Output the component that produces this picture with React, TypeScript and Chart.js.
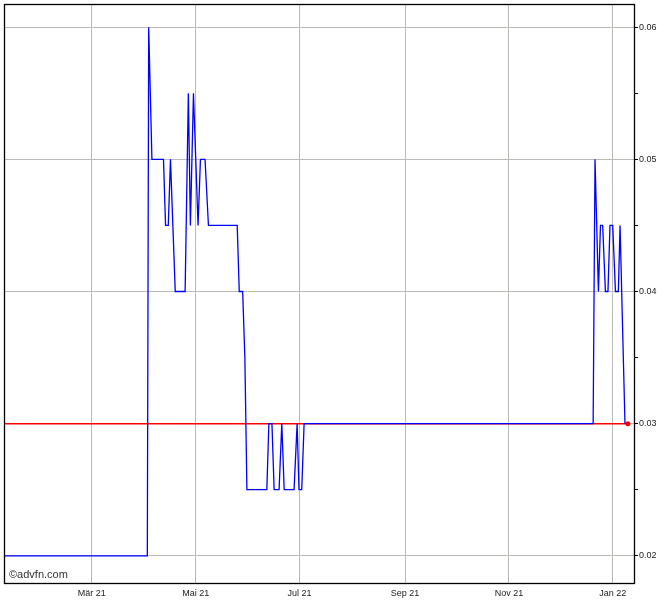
import React, { useEffect, useRef } from "react";
import { Chart, registerables } from "chart.js";

Chart.register(...registerables);

// Days since 2021-01-01 (approximate)
const priceDays = [
  7.4, 91.6, 92.4, 94.3, 101.1, 102.3, 103.9, 105.2, 108.0, 113.8,
  115.7, 116.9, 118.7, 121.4, 122.8, 125.5, 127.5, 144.4, 145.6, 147.6,
  148.9, 150.1, 161.8, 163.0, 164.8, 166.1, 169.0, 170.6, 172.0, 177.8,
  179.6, 180.7, 182.3, 183.7, 353.5, 354.6, 356.6, 357.8, 359.1, 360.7,
  362.2, 363.4, 365.0, 366.6, 368.3, 369.3, 372.2,
];
const priceValues = [
  0.02, 0.02, 0.06, 0.05, 0.05, 0.045, 0.045, 0.05, 0.04, 0.04,
  0.055, 0.045, 0.055, 0.045, 0.05, 0.05, 0.045, 0.045, 0.04, 0.04,
  0.035, 0.025, 0.025, 0.03, 0.03, 0.025, 0.025, 0.03, 0.025, 0.025,
  0.03, 0.025, 0.025, 0.03, 0.03, 0.05, 0.04, 0.045, 0.045, 0.04,
  0.04, 0.045, 0.045, 0.04, 0.04, 0.045, 0.03,
];
const lastPriceDays = [7.4, 373.9];
const lastPriceValues = [0.03, 0.03];

const monthTickDays = [59, 120, 181, 243, 304, 365];
const monthTickLabels = ["Mär 21", "Mai 21", "Jul 21", "Sep 21", "Nov 21", "Jan 22"];
const priceTickValues = [0.02, 0.025, 0.03, 0.035, 0.04, 0.045, 0.05, 0.055, 0.06];
const priceTickLabels = ["0.02", "", "0.03", "", "0.04", "", "0.05", "", "0.06"];

const FONT = '"Liberation Sans", Arial, sans-serif';
const GRID = "#bcbcb6";

const framePlugin = {
  id: "frame",
  beforeDatasetsDraw(chart: any) {
    const { ctx, chartArea } = chart;
    ctx.save();
    ctx.font = `11px ${FONT}`;
    ctx.fillStyle = "#333";
    ctx.textBaseline = "middle";
    ctx.textAlign = "left";
    ctx.fillText("©advfn.com", chartArea.left + 5, chartArea.bottom - 8);
    ctx.restore();
  },
  afterDraw(chart: any) {
    const { ctx, chartArea } = chart;
    ctx.save();
    ctx.strokeStyle = "#000";
    ctx.lineWidth = 1.3;
    ctx.strokeRect(chartArea.left + 0.5, chartArea.top + 0.5, chartArea.right - chartArea.left, chartArea.bottom - chartArea.top);
    ctx.restore();
  },
};

export default function App() {
  const ref = useRef<HTMLCanvasElement | null>(null);
  useEffect(() => {
    document.body.style.margin = "0";
    const canvas = ref.current!;
    const chart = new Chart(canvas, {
      type: "line",
      data: {
        datasets: [
          {
            data: priceDays.map((d, i) => ({ x: d, y: priceValues[i] })),
            borderColor: "#0000ff",
            borderWidth: 1.3,
            pointRadius: 0,
            tension: 0,
            fill: false,
          },
          {
            data: lastPriceDays.map((d, i) => ({ x: d, y: lastPriceValues[i] })),
            borderColor: "#ff0000",
            backgroundColor: "#ff0000",
            borderWidth: 1.5,
            pointRadius: [0, 2.5],
            pointBorderWidth: 0,
            tension: 0,
            fill: false,
          },
        ],
      },
      options: {
        responsive: false,
        animation: false,
        events: [],
        layout: { padding: { left: 2, top: 2, right: 0, bottom: 0 } },
        plugins: { legend: { display: false }, tooltip: { enabled: false } },
        scales: {
          x: {
            type: "linear",
            min: 7.4,
            max: 377.5,
            afterBuildTicks: (scale: any) => {
              scale.ticks = monthTickDays.map((v) => ({ value: v }));
            },
            afterFit: (scale: any) => {
              scale.height = 17;
              scale.paddingLeft = 0;
              scale.paddingRight = 0;
            },
            grid: { color: GRID, drawTicks: false, lineWidth: 1 },
            border: { display: false },
            ticks: {
              autoSkip: false,
              maxRotation: 0,
              padding: 5,
              color: "#222",
              font: { family: FONT, size: 9 },
              callback: (_v: any, i: number) => monthTickLabels[i],
            },
          },
          y: {
            type: "linear",
            position: "right",
            min: 0.01794,
            max: 0.06176,
            afterBuildTicks: (scale: any) => {
              scale.ticks = priceTickValues.map((v) => ({ value: v }));
            },
            afterFit: (scale: any) => {
              scale.width = 36;
              scale.paddingTop = 0;
              scale.paddingBottom = 0;
            },
            grid: {
              color: (c: any) => (priceTickLabels[c.index] ? GRID : "rgba(0,0,0,0)"),
              tickColor: "#000",
              tickLength: 4,
              lineWidth: 1,
            },
            border: { display: false },
            ticks: {
              padding: 1,
              color: "#222",
              font: { family: FONT, size: 9 },
              callback: (_v: any, i: number) => priceTickLabels[i],
            },
          },
        },
      },
      plugins: [framePlugin],
    });
    return () => chart.destroy();
  }, []);
  return <canvas ref={ref} width={670} height={600} style={{ display: "block" }} />;
}
